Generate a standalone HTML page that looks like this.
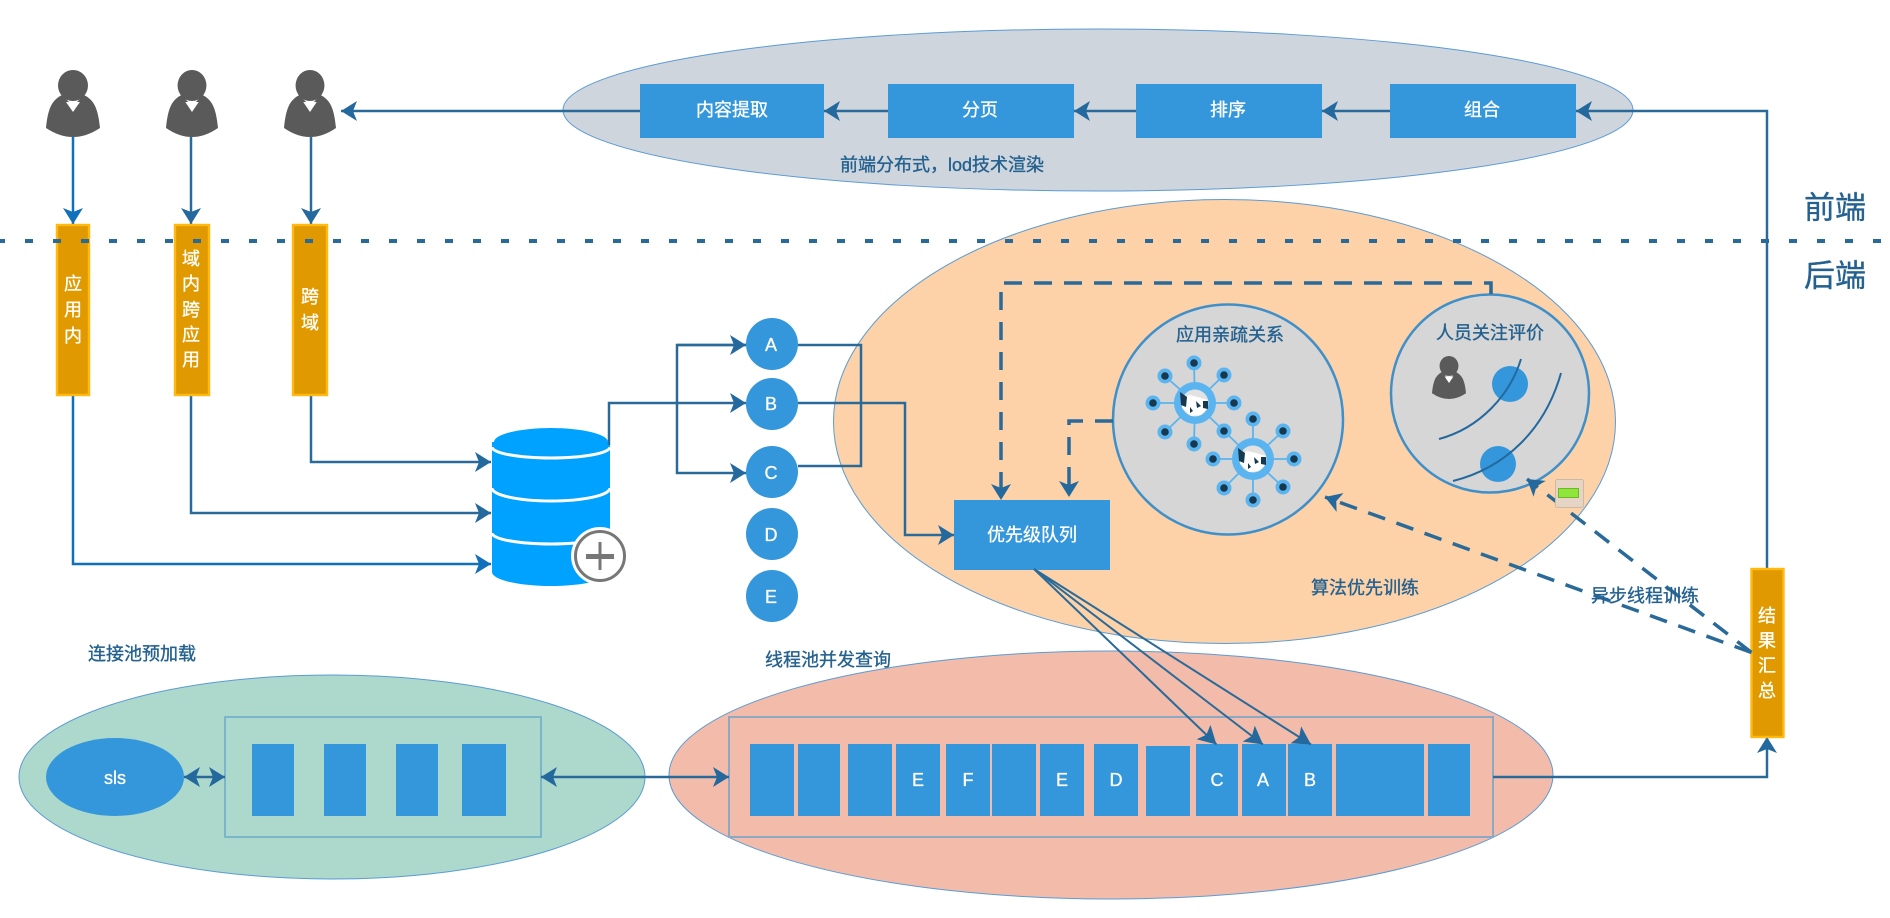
<!DOCTYPE html>
<html><head><meta charset="utf-8"><style>
html,body{margin:0;padding:0;background:#fff;width:1890px;height:918px;overflow:hidden}
svg{display:block}
text{font-family:"Liberation Sans","Noto Sans CJK SC",sans-serif;font-size:18px;text-anchor:middle;dominant-baseline:central}
.w{fill:#fff;stroke:#fff;stroke-width:.3}
.d{fill:#24618f;stroke:#24618f;stroke-width:.35}
.l{fill:none;stroke:#2a6a99;stroke-width:2.5}
.o{fill:#e09a00;stroke:#ffb90f;stroke-width:2.4}
.b{fill:#3597db}
.dash{fill:none;stroke:#2a6a99;stroke-width:3.5;stroke-dasharray:18 12}
.hub{fill:#5ab4f0}
.sat{fill:#5ab4f0}
.sd{fill:#17394f}
</style></head><body>
<svg width="1890" height="918" viewBox="0 0 1890 918" xmlns="http://www.w3.org/2000/svg">
<defs>
<marker id="a" markerUnits="userSpaceOnUse" markerWidth="18" markerHeight="22" refX="16" refY="10" orient="auto-start-reverse" overflow="visible"><path d="M16,10 L0,0 L4,10 L0,20 Z" fill="#24699e"/></marker>
<marker id="c" markerUnits="userSpaceOnUse" markerWidth="18" markerHeight="22" refX="16" refY="10" orient="auto" overflow="visible"><path d="M16,10 L0,0 L4,10 L0,20 Z" fill="#1070ba"/></marker>
<marker id="s" markerUnits="userSpaceOnUse" markerWidth="20" markerHeight="22" refX="18" refY="10" orient="auto" overflow="visible"><path d="M18,10 L0,0 L4,10 L0,20 Z" fill="#24699e"/></marker>
<symbol id="p" viewBox="0 0 54 67" preserveAspectRatio="none">
<path d="M0,58 C2,38 6,30 16,25 L27,36 L38,25 C48,30 52,38 54,58 Q27,76 0,58 Z" fill="#5a5a5a"/>
<path d="M20,31 L27,42 L34,31 L38,30 L38,60 L16,60 L16,30 Z" fill="#5a5a5a"/>
<ellipse cx="27" cy="15.5" rx="15" ry="15.5" fill="#5a5a5a"/>
<path d="M20,32 L34,32 L27,42 Z" fill="#fff"/>
</symbol>
<g id="hs"><circle r="13.5" fill="#e2e2e2"/><path d="M-14,-3 L-6,-8 L3,-6 L13,-3 L13,5 L6,12 L-4,13 L-13,5 Z" fill="#fff"/><path d="M-15,-11 L-8,-6 L-9,4 L-14,2 Z M8,-2 L13,-2 L13,6 L8,5 Z M1,-2 L6,3 L2,5 Z M-5,4 L-2,8 L-5,10 Z" fill="#17394f"/></g>
</defs>

<!-- ellipses -->
<ellipse cx="1098" cy="110" rx="535" ry="81" fill="#cfd5dd" stroke="#5b9bd5" stroke-width="1"/>
<ellipse cx="1224.5" cy="421.5" rx="391" ry="222" fill="#fdd2a8" stroke="#5b9bd5" stroke-width="1"/>
<ellipse cx="332" cy="777" rx="313" ry="102" fill="#acd9cc" stroke="#5b9bd5" stroke-width="1"/>
<ellipse cx="1111" cy="775" rx="442" ry="124" fill="#f3bcaa" stroke="#5b9bd5" stroke-width="1"/>

<!-- persons -->
<use href="#p" x="46" y="70" width="54" height="67"/>
<use href="#p" x="166" y="70" width="52" height="67"/>
<use href="#p" x="284" y="70" width="52" height="67"/>

<!-- top flow lines -->
<path class="l" d="M640,111 L341,111" marker-end="url(#a)"/>
<path class="l" d="M888,111 L824,111" marker-end="url(#a)"/>
<path class="l" d="M1136,111 L1074,111" marker-end="url(#a)"/>
<path class="l" d="M1390,111 L1322,111" marker-end="url(#a)"/>
<path class="l" d="M1767,568 L1767,111 L1576,111" marker-end="url(#a)"/>
<rect class="b" x="640" y="84" width="184" height="54"/>
<rect class="b" x="888" y="84" width="186" height="54"/>
<rect class="b" x="1136" y="84" width="186" height="54"/>
<rect class="b" x="1390" y="84" width="186" height="54"/>
<text class="w" x="732" y="110">内容提取</text>
<text class="w" x="980" y="110">分页</text>
<text class="w" x="1228" y="110">排序</text>
<text class="w" x="1482" y="110">组合</text>
<text class="d" x="942" y="165">前端分布式，lod技术渲染</text>

<!-- verticals -->
<path class="l" style="stroke:#1070ba" d="M73,137 L73,224" marker-end="url(#c)"/>
<path class="l" d="M191,137 L191,224" marker-end="url(#a)"/>
<path class="l" d="M311,137 L311,224" marker-end="url(#a)"/>
<path class="l" style="stroke:#1070ba" d="M73,395 L73,564 L491,564" marker-end="url(#c)"/>
<path class="l" d="M191,395 L191,513 L491,513" marker-end="url(#a)"/>
<path class="l" d="M311,395 L311,462 L491,462" marker-end="url(#a)"/>
<rect class="o" x="57" y="225" width="32" height="170"/>
<rect class="o" x="175" y="225" width="34" height="170"/>
<rect class="o" x="293" y="225" width="34" height="170"/>
<text class="w" x="73" y="284">应</text><text class="w" x="73" y="310">用</text><text class="w" x="73" y="336">内</text>
<text class="w" x="191" y="259">域</text><text class="w" x="191" y="284">内</text><text class="w" x="191" y="310">跨</text><text class="w" x="191" y="335">应</text><text class="w" x="191" y="360">用</text>
<text class="w" x="310" y="297">跨</text><text class="w" x="310" y="323">域</text>

<!-- database -->
<path d="M492,442 L610,442 L610,572 A59,14 0 0 1 492,572 Z" fill="#00a2ff"/>
<path d="M492,447 A59,11 0 0 0 610,447 M492,488 A59,13 0 0 0 610,488 M492,533 A59,11 0 0 0 610,533" fill="none" stroke="#fff" stroke-width="3"/>
<ellipse cx="551" cy="442" rx="57" ry="14" fill="#00a2ff"/>
<circle cx="600" cy="556" r="29" fill="#fff"/>
<circle cx="600" cy="556" r="24.5" fill="#fff" stroke="#777" stroke-width="3"/>
<path d="M586,556.5 L614,556.5" stroke="#777" stroke-width="5" fill="none"/>
<path d="M600,542 L600,570" stroke="#777" stroke-width="3" fill="none"/>

<!-- circles flow -->
<path class="l" d="M609,445 L609,403 L746,403" marker-end="url(#a)"/>
<path class="l" d="M746,345 L677,345 L677,473 L746,473" marker-end="url(#a)"/>
<path class="l" d="M677,345 L746,345" marker-end="url(#a)"/>
<path class="l" d="M798,345 L861,345 L861,466 L798,466"/>
<path class="l" d="M798,403 L905,403 L905,535 L954,535" marker-end="url(#a)"/>
<circle class="b" cx="772" cy="344" r="26"/><circle class="b" cx="772" cy="404" r="26"/><circle class="b" cx="772" cy="472" r="26"/><circle class="b" cx="772" cy="534" r="26"/><circle class="b" cx="772" cy="596" r="26"/>
<text class="w" x="771" y="345">A</text><text class="w" x="771" y="404">B</text><text class="w" x="771" y="473">C</text><text class="w" x="771" y="535">D</text><text class="w" x="771" y="597">E</text>

<!-- inner circles -->
<circle cx="1228" cy="419.5" r="115" fill="#d6d6d6" stroke="#3f8fc9" stroke-width="2.5"/>
<circle cx="1490" cy="393.5" r="99" fill="#d6d6d6" stroke="#3f8fc9" stroke-width="2.5"/>
<path class="dash" d="M1491,294 L1491,283 L1001,283 L1001,500" marker-end="url(#a)"/>
<path class="dash" d="M1113,421 L1069,421 L1069,497" marker-end="url(#a)"/>
<text class="d" x="1230" y="335">应用亲疏关系</text>
<text class="d" x="1490" y="333">人员关注评价</text>

<!-- network -->
<g stroke="#5ab4f0" stroke-width="1.8" fill="none">
<path d="M1195,403 L1194,363 M1195,403 L1224,375 M1195,403 L1234,403 M1195,403 L1224,431 M1195,403 L1194,444 M1195,403 L1165,432 M1195,403 L1153,403 M1195,403 L1165,376"/>
<path d="M1253,459 L1253,419 M1253,459 L1283,431 M1253,459 L1294,459 M1253,459 L1283,487 M1253,459 L1253,500 M1253,459 L1224,488 M1253,459 L1213,459 M1253,459 L1224,431"/>
</g>
<g class="sat">
<circle cx="1194" cy="363" r="7.5"/><circle cx="1224" cy="375" r="7.5"/><circle cx="1234" cy="403" r="7.5"/><circle cx="1224" cy="431" r="7.5"/><circle cx="1194" cy="444" r="7.5"/><circle cx="1165" cy="432" r="7.5"/><circle cx="1153" cy="403" r="7.5"/><circle cx="1165" cy="376" r="7.5"/>
<circle cx="1253" cy="419" r="7.5"/><circle cx="1283" cy="431" r="7.5"/><circle cx="1294" cy="459" r="7.5"/><circle cx="1283" cy="487" r="7.5"/><circle cx="1253" cy="500" r="7.5"/><circle cx="1224" cy="488" r="7.5"/><circle cx="1213" cy="459" r="7.5"/>
</g>
<g class="sd">
<circle cx="1194" cy="363" r="3.8"/><circle cx="1224" cy="375" r="3.8"/><circle cx="1234" cy="403" r="3.8"/><circle cx="1224" cy="431" r="3.8"/><circle cx="1194" cy="444" r="3.8"/><circle cx="1165" cy="432" r="3.8"/><circle cx="1153" cy="403" r="3.8"/><circle cx="1165" cy="376" r="3.8"/>
<circle cx="1253" cy="419" r="3.8"/><circle cx="1283" cy="431" r="3.8"/><circle cx="1294" cy="459" r="3.8"/><circle cx="1283" cy="487" r="3.8"/><circle cx="1253" cy="500" r="3.8"/><circle cx="1224" cy="488" r="3.8"/><circle cx="1213" cy="459" r="3.8"/>
</g>
<circle class="hub" cx="1195" cy="403" r="21"/><circle class="hub" cx="1253" cy="459" r="21"/>
<use href="#hs" x="1195" y="403"/><use href="#hs" x="1253" y="459"/>

<!-- person circle content -->
<use href="#p" x="1432" y="356" width="34" height="43"/>
<circle class="b" cx="1510" cy="384" r="18"/><circle class="b" cx="1498" cy="464" r="18"/>
<path d="M1521,359 C1510,395 1480,428 1439,439" fill="none" stroke="#24699e" stroke-width="2"/>
<path d="M1561,373 C1545,430 1505,468 1453,481" fill="none" stroke="#24699e" stroke-width="2"/>

<!-- priority box -->
<rect class="b" x="954" y="500" width="156" height="70"/>
<text class="w" x="1032" y="535">优先级队列</text>
<text class="d" x="1365" y="588">算法优先训练</text>

<!-- bottom rects -->
<rect x="225" y="717" width="316" height="120" fill="none" stroke="#6aa9c9" stroke-width="1.5"/>
<rect x="729" y="717" width="764" height="120" fill="none" stroke="#8ea8c3" stroke-width="2"/>
<ellipse class="b" cx="115" cy="777" rx="69" ry="39"/>
<text class="w" x="115" y="778">sls</text>
<g class="b">
<rect x="252" y="744" width="42" height="72"/><rect x="324" y="744" width="42" height="72"/><rect x="396" y="744" width="42" height="72"/><rect x="462" y="744" width="44" height="72"/>
<rect x="750" y="744" width="44" height="72"/><rect x="798" y="744" width="42" height="72"/><rect x="848" y="744" width="44" height="72"/><rect x="896" y="744" width="44" height="72"/><rect x="946" y="744" width="44" height="72"/><rect x="992" y="744" width="44" height="72"/><rect x="1040" y="744" width="44" height="72"/><rect x="1094" y="744" width="44" height="72"/><rect x="1146" y="746" width="44" height="70"/><rect x="1196" y="744" width="42" height="72"/><rect x="1242" y="744" width="44" height="72"/><rect x="1288" y="744" width="44" height="72"/><rect x="1336" y="744" width="88" height="72"/><rect x="1428" y="744" width="42" height="72"/>
</g>
<text class="w" x="918" y="780">E</text><text class="w" x="968" y="780">F</text><text class="w" x="1062" y="780">E</text><text class="w" x="1116" y="780">D</text><text class="w" x="1217" y="780">C</text><text class="w" x="1263" y="780">A</text><text class="w" x="1310" y="780">B</text>
<text class="d" x="142" y="654">连接池预加载</text>
<text class="d" x="828" y="660">线程池并发查询</text>

<path class="l" d="M184,777 L225,777" marker-start="url(#a)" marker-end="url(#a)"/>
<path class="l" d="M541,777 L729,777" marker-start="url(#a)" marker-end="url(#a)"/>
<path class="l" d="M1493,777 L1767,777 L1767,737" marker-end="url(#a)"/>

<!-- priority diagonals -->
<path class="l" style="stroke-width:2" d="M1034,569 L1216.5,744.5" marker-end="url(#s)"/>
<path class="l" style="stroke-width:2" d="M1034,569 L1263,744.5" marker-end="url(#s)"/>
<path class="l" style="stroke-width:2" d="M1034,569 L1311,744.5" marker-end="url(#s)"/>

<!-- result box -->
<rect class="o" x="1751.5" y="569" width="32" height="168"/>
<text class="w" x="1767" y="616">结</text><text class="w" x="1767" y="641">果</text><text class="w" x="1767" y="666">汇</text><text class="w" x="1767" y="691">总</text>

<!-- async dashed -->
<path class="dash" d="M1751.5,652.5 L1325,497" marker-end="url(#a)"/>
<path class="dash" d="M1751.5,652.5 L1527,479" marker-end="url(#a)"/>
<rect x="1555.5" y="479.5" width="28" height="28" rx="2" fill="#e6d5c5" stroke="#cdb9a6" stroke-width="1"/>
<rect x="1558.5" y="488.5" width="20" height="9" fill="#8fe53a" stroke="#6cb82a" stroke-width="1"/>
<text class="d" x="1645" y="596">异步线程训练</text>

<!-- dotted divider -->
<path d="M-3,241 L1890,241" fill="none" stroke="#2a6a99" stroke-width="4" stroke-dasharray="8 20"/>
<text class="d" x="1835" y="208" style="font-size:31px">前端</text>
<text class="d" x="1835" y="276" style="font-size:31px">后端</text>
</svg>
</body></html>
